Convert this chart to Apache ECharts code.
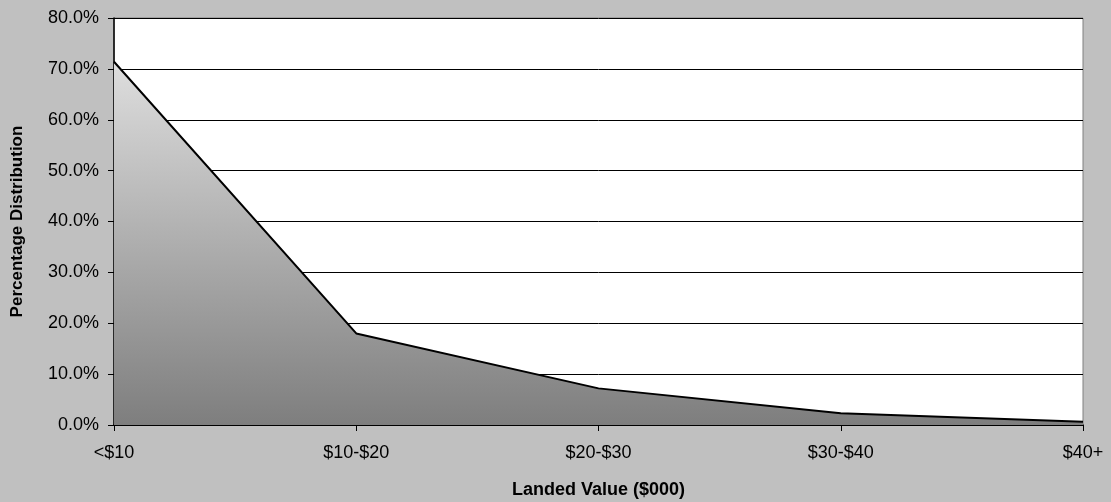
<!DOCTYPE html>
<html><head><meta charset="utf-8">
<script src="https://cdn.jsdelivr.net/npm/echarts@6/dist/echarts.min.js"></script>
<style>html,body{margin:0;padding:0;background:#c0c0c0;}#c{width:1111px;height:502px;}</style>
</head><body><div id="c"></div>
<script>
const categories = ['<$10', '$10-$20', '$20-$30', '$30-$40', '$40+'];
const values = [71.4, 18.0, 7.2, 2.3, 0.65];
const yTicks = [0, 10, 20, 30, 40, 50, 60, 70, 80];

const chart = echarts.init(document.getElementById('c'));
const font = 'Liberation Sans, Arial, sans-serif';
chart.setOption({
  backgroundColor: '#c0c0c0',
  animation: false,
  grid: { left: 114, right: 28, top: 18, bottom: 77, containLabel: false, outerBoundsMode: 'none',
    show: true, backgroundColor: '#ffffff', borderColor: '#808080', borderWidth: 1 },
  xAxis: {
    type: 'category', data: categories, boundaryGap: false,
    name: 'Landed Value ($000)', nameLocation: 'middle', nameGap: 56,
    nameTextStyle: { fontFamily: font, fontSize: 18, fontWeight: 'bold', color: '#000' },
    axisLine: { lineStyle: { color: '#000', width: 1.5 } },
    axisTick: { length: 6, lineStyle: { color: '#000' } },
    axisLabel: { fontFamily: font, fontSize: 18, color: '#000', margin: 19 },
    splitLine: { show: false }
  },
  yAxis: {
    type: 'value', min: 0, max: 80, interval: 10,
    name: 'Percentage Distribution', nameLocation: 'middle', nameGap: 88, nameRotate: 90,
    nameTextStyle: { fontFamily: font, fontSize: 17, fontWeight: 'bold', color: '#000' },
    axisLine: { show: true, lineStyle: { color: '#000', width: 1.5 } },
    axisTick: { show: true, inside: false, length: 6, lineStyle: { color: '#000' } },
    axisLabel: { fontFamily: font, fontSize: 18, color: '#000', margin: 15,
      formatter: v => yTicks.includes(v) ? v.toFixed(1) + '%' : '' },
    splitLine: { show: true, lineStyle: { color: '#000', width: 1 } }
  },
  series: [{
    type: 'line', data: values, symbol: 'none',
    lineStyle: { color: '#000', width: 2 },
    areaStyle: { opacity: 1, color: { type: 'linear', x: 0, y: 0, x2: 0, y2: 1, colorStops: [
      { offset: 0, color: '#dedede' }, { offset: 1, color: '#7e7e7e' } ] } }
  }]
});
</script></body></html>
